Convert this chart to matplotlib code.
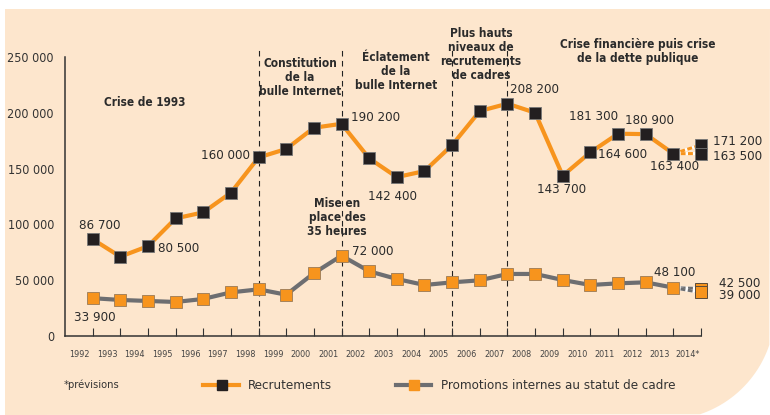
import numpy as np
import matplotlib
matplotlib.use('Agg')
import matplotlib.pyplot as plt
from matplotlib.patches import Polygon
from matplotlib.lines import Line2D

# donnees
years = list(range(1992, 2014))
year_2014 = 2014
year_labels = [str(y) for y in range(1992, 2014)] + ['2014*']

recrutements = [86700, 71100, 80500, 105400, 110800, 128400, 160000, 167600,
                186600, 190200, 159200, 142400, 147800, 171100, 201600, 208200,
                200100, 143700, 164600, 181300, 180900, 163400]
recrut_2014 = [171200, 163500]

promotions = [33900, 32300, 31400, 30500, 33200, 39100, 41800, 37000,
              56300, 72000, 58000, 51100, 45700, 48100, 49900, 55600,
              55600, 50200, 45700, 47200, 48100, 43300]
promo_2014 = [42500, 39000]

event_years = [1998, 2001, 2005, 2007]
yticks = [0, 50000, 100000, 150000, 200000, 250000]

ORANGE = '#F7941D'
BLACK = '#231F20'
GREY = '#6D6E71'
PEACH = '#FDE6CD'
TXT = '#2B2B2B'

W, H = 770, 415


def fx(px):
    return px / W


def fy(py):
    return 1 - py / H


fig = plt.figure(figsize=(7.7, 4.15), dpi=100, facecolor='white')

# fond peche avec coin arrondi en bas a droite
theta = np.linspace(0, np.pi / 2, 40)
cx, cy, r = 665, 310, 110
arc = [(cx + r * np.cos(t), cy + r * np.sin(t)) for t in theta]
pts = [(5, 9), (W, 9)] + [(p, q) for p, q in arc if p <= W and q <= H] + [(5, H)]
pts = [(fx(p), fy(q)) for p, q in pts]
fig.add_artist(Polygon(pts, closed=True, transform=fig.transFigure,
                       facecolor=PEACH, edgecolor='none', zorder=0))

ax = fig.add_axes([fx(65), fy(336), fx(701) - fx(65), fy(47) - fy(336)])
ax.set_facecolor('none')
ax.set_xlim(1991, 2014)
ax.set_ylim(0, 259000)

for s in ['top', 'right']:
    ax.spines[s].set_visible(False)
ax.spines['left'].set_bounds(0, 250000)
for s in ['left', 'bottom']:
    ax.spines[s].set_color('#333333')
    ax.spines[s].set_linewidth(1.1)

cond = dict(family='DejaVu Sans', stretch='condensed')

ax.set_yticks(yticks)
ax.set_yticklabels([f'{v:,}'.replace(',', ' ') for v in yticks],
                   color='#333333', fontsize=9, **cond)
ax.tick_params(axis='y', length=0, pad=8)

ax.set_xticks(years + [year_2014])
ax.set_xticklabels([])
ax.tick_params(axis='x', which='major', direction='in', length=5.5,
               width=0.8, color='#333333')
ax.set_xticks([y - 0.48 for y in years + [year_2014]], minor=True)
ax.set_xticklabels(year_labels, minor=True, fontsize=6.5, color='#444444', **cond)
ax.tick_params(axis='x', which='minor', length=0, pad=10)

for ey in event_years:
    ax.axvline(ey, color='#222222', lw=0.8, dashes=(5, 4), zorder=1)

# courbes
ax.plot(years, recrutements, color=ORANGE, lw=3, zorder=3)
ax.plot(years, recrutements, ls='none', marker='s', ms=9, mfc=BLACK,
        mec='#777777', mew=0.6, zorder=5)
ax.plot(years, promotions, color=GREY, lw=3, zorder=3)
ax.plot(years, promotions, ls='none', marker='s', ms=8.4, mfc=ORANGE,
        mec='#9a7a55', mew=0.6, zorder=5)

# previsions 2014 (pointilles)
for v in recrut_2014:
    ax.plot([years[-1], year_2014], [recrutements[-1], v], color='white',
            lw=2.2, zorder=2)
    ax.plot([years[-1], year_2014], [recrutements[-1], v], color=ORANGE,
            lw=2.2, dashes=(1.6, 0.8), zorder=2)
for v in promo_2014:
    ax.plot([years[-1], year_2014], [promotions[-1], v], color='white',
            lw=2.2, zorder=2)
    ax.plot([years[-1], year_2014], [promotions[-1], v], color=GREY,
            lw=2.2, dashes=(1.6, 0.8), zorder=2)
ax.plot([year_2014] * 2, recrut_2014, ls='none', marker='s', ms=9,
        mfc=BLACK, mec='#777777', mew=0.6, zorder=5, clip_on=False)
ax.plot([year_2014] * 2, promo_2014, ls='none', marker='s', ms=8.4,
        mfc=ORANGE, mec='#5a4a3a', mew=0.7, zorder=5, clip_on=False)

# etiquettes de valeurs : (annee, valeur, dx px, dy px, alignement)
labels = [
    (1992, recrutements[0], 7, 14, 'center'),
    (1994, recrutements[2], 10, -2, 'left'),
    (1998, recrutements[6], -9, 2, 'right'),
    (2001, recrutements[9], 9, 6, 'left'),
    (2003, recrutements[11], -4, -19, 'center'),
    (2007, recrutements[15], 3, 14, 'left'),
    (2009, recrutements[17], -1, -14, 'center'),
    (2010, recrutements[18], 8, -2, 'left'),
    (2011, recrutements[19], -24, 17, 'center'),
    (2012, recrutements[20], 4, 14, 'center'),
    (2013, recrutements[21], 1, -13, 'center'),
    (2014, recrut_2014[0], 12, 3, 'left'),
    (2014, recrut_2014[1], 12, -2.5, 'left'),
    (1992, promotions[0], 2, -19, 'center'),
    (2001, promotions[9], 10, 4.5, 'left'),
    (2012, 48100, 8, 10, 'left'),
    (2014, promo_2014[0], 18, 5.5, 'left'),
    (2014, promo_2014[1], 18, -3.5, 'left'),
]
for yr, v, dx, dy, ha in labels:
    ax.annotate(f'{v:,}'.replace(',', ' '), xy=(yr, v), xytext=(dx, dy),
                textcoords='offset pixels', ha=ha, va='center',
                fontsize=9.5, color=TXT, zorder=6, annotation_clip=False, **cond)

# evenements
notes = [
    (1993.9, 209700, 'Crise de 1993'),
    (1999.5, 232000, 'Constitution\nde la\nbulle Internet'),
    (2002.97, 236600, 'Éclatement\nde la\nbulle Internet'),
    (2006.05, 252200, 'Plus hauts\nniveaux de\nrecrutements\nde cadres'),
    (2011.72, 255000, 'Crise financière puis crise\nde la dette publique'),
    (2000.84, 106600, 'Mise en\nplace des\n35 heures'),
]
for x, y, t in notes:
    ax.text(x, y, t, ha='center', va='center', fontsize=8.5, fontweight='bold',
            color=TXT, linespacing=1.1, zorder=6, clip_on=False, **cond)

# legende
fig.text(fx(64), fy(385), '*prévisions', fontsize=8, color='#333333',
         va='center', ha='left', **cond)
fig.add_artist(Line2D([fx(203), fx(239)], [fy(385)] * 2, color=ORANGE, lw=3,
                      transform=fig.transFigure))
fig.add_artist(Line2D([fx(222)], [fy(385)], marker='s', ms=7, mfc=BLACK,
                      mec=BLACK, transform=fig.transFigure))
fig.text(fx(248), fy(385), 'Recrutements', fontsize=9.5, color='#333333',
         va='center', ha='left', **cond)
fig.add_artist(Line2D([fx(396), fx(431)], [fy(385)] * 2, color=GREY, lw=3,
                      transform=fig.transFigure))
fig.add_artist(Line2D([fx(413.5)], [fy(385)], marker='s', ms=7, mfc=ORANGE,
                      mec=ORANGE, transform=fig.transFigure))
fig.text(fx(441), fy(385), 'Promotions internes au statut de cadre', fontsize=9.5,
         color='#333333', va='center', ha='left', **cond)

fig.savefig('out.png', dpi=100)
